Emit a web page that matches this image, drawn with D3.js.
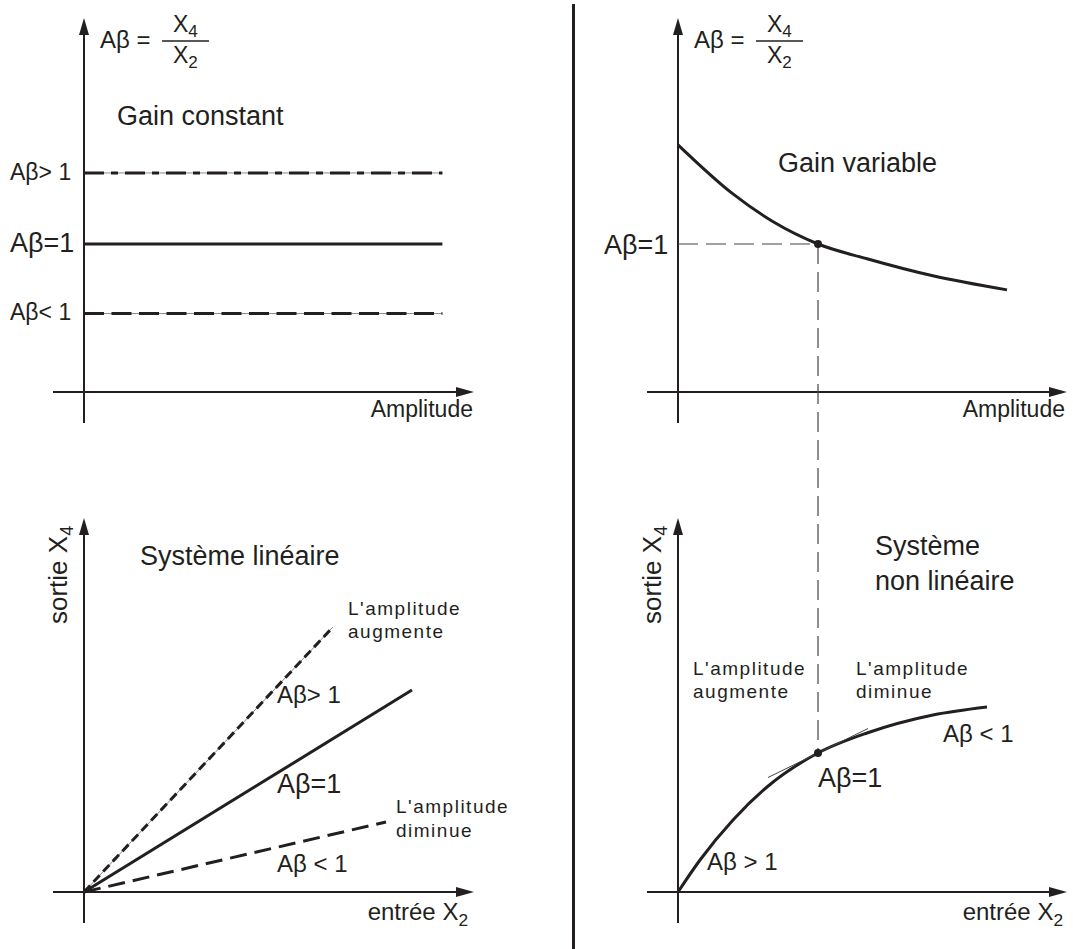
<!DOCTYPE html>
<html><head><meta charset="utf-8">
<script src="https://cdn.jsdelivr.net/npm/d3@7"></script>
<style>
body{margin:0;background:#fff}
svg{display:block}
text{font-family:"Liberation Sans",Arial,Helvetica,sans-serif;fill:#231f20}
</style>
</head><body>
<svg id="c" width="1073" height="949"></svg>
<script>
// ---------- data ----------
const constGainLabels = ["Aβ> 1", "Aβ=1", "Aβ< 1"];
const constGainValues = [1.48, 1.0, 0.53];
const constGainEnd = 2.56;

const varGainAmplitude = [0, 0.39, 0.68, 1.0, 1.35, 1.82, 2.35];
const varGainValue     = [1.67, 1.34, 1.15, 1.0, 0.90, 0.785, 0.69];

const linearLabels = ["Aβ> 1", "Aβ=1", "Aβ < 1"];
const linearInEnd  = [2.49, 3.28, 3.02];
const linearOutEnd = [2.65, 2.02, 0.70];

const nonlinInput  = [0, 0.22, 0.55, 0.89, 1.40, 1.89, 2.55, 3.09];
const nonlinOutput = [0, 0.32, 0.72, 1.05, 1.39, 1.59, 1.77, 1.85];
const opInput = 1.40, opOutput = 1.39, opAmplitude = 1.0, opGain = 1.0;
const tangentSlope = 0.49;
const tangentHalfSpan = 0.5;

// ---------- setup ----------
const svg = d3.select("#c");
const INK = "#231f20";

// scales: top panels
const yGain = d3.scaleLinear().domain([0, 2.5]).range([392, 22]);
const xAmpL = d3.scaleLinear().domain([0, 2.8]).range([84, 476]);
const xAmpR = d3.scaleLinear().domain([0, 2.8]).range([678, 1070]);
// bottom panels
const yOut  = d3.scaleLinear().domain([0, 3.74]).range([892, 518]);
const xInL  = d3.scaleLinear().domain([0, 3.9]).range([84, 474]);
const xInR  = d3.scaleLinear().domain([0, 3.9]).range([678, 1068]);

function arrowAxes(g, x, y, tipX, tipY) {
  const ox = x(0), oy = y(0);
  g.append("line").attr("x1", ox - 31).attr("y1", oy).attr("x2", tipX - 10).attr("y2", oy)
    .attr("stroke", INK).attr("stroke-width", 2);
  g.append("path").attr("d", `M${tipX},${oy} L${tipX - 18},${oy - 5} L${tipX - 18},${oy + 5} Z`).attr("fill", INK);
  g.append("line").attr("x1", ox).attr("y1", oy + 31).attr("x2", ox).attr("y2", tipY + 10)
    .attr("stroke", INK).attr("stroke-width", 2);
  g.append("path").attr("d", `M${ox},${tipY} L${ox - 5},${tipY + 17} L${ox + 5},${tipY + 17} Z`).attr("fill", INK);
}

function formula(g, ox) {
  g.append("text").attr("x", ox + 16).attr("y", 48).attr("font-size", 24).text("Aβ =");
  g.append("line").attr("x1", ox + 78).attr("x2", ox + 125).attr("y1", 41).attr("y2", 41)
    .attr("stroke", INK).attr("stroke-width", 1.6);
  const n = g.append("text").attr("x", ox + 89).attr("y", 32).attr("font-size", 23);
  n.append("tspan").text("X");
  n.append("tspan").attr("dy", 5).attr("font-size", 17).text("4");
  const d = g.append("text").attr("x", ox + 89).attr("y", 63).attr("font-size", 23);
  d.append("tspan").text("X");
  d.append("tspan").attr("dy", 5).attr("font-size", 17).text("2");
}

function subLabel(g, x, y, main, sub, size, anchor) {
  const t = g.append("text").attr("x", x).attr("y", y).attr("font-size", size).attr("text-anchor", anchor || "start");
  t.append("tspan").text(main);
  t.append("tspan").attr("dy", 6).attr("font-size", size * 0.72).text(sub);
  return t;
}

// ---------- divider ----------
svg.append("line").attr("x1", 573.5).attr("x2", 573.5).attr("y1", 4).attr("y2", 949)
  .attr("stroke", INK).attr("stroke-width", 3);

// ---------- top-left: gain constant ----------
const gTL = svg.append("g");
arrowAxes(gTL, xAmpL, yGain, 474, 18);
formula(gTL, xAmpL(0));
gTL.append("text").attr("x", 117).attr("y", 125).attr("font-size", 27).text("Gain constant");
gTL.append("text").attr("x", 473).attr("y", 417).attr("font-size", 23).attr("text-anchor", "end").text("Amplitude");

const tlDash = ["20,7,7,7", null, "20,7.5"];
const tlLabelSize = [23, 27, 23];
const tlLabelDy = [7, 8, 6];
constGainValues.forEach((v, i) => {
  const y = yGain(v);
  if (tlDash[i]) {
    gTL.append("line").attr("x1", xAmpL(0)).attr("x2", xAmpL(constGainEnd)).attr("y1", y).attr("y2", y)
      .attr("stroke", "#8a8a8a").attr("stroke-width", 1);
  }
  gTL.append("line").attr("x1", xAmpL(0)).attr("x2", xAmpL(constGainEnd)).attr("y1", y).attr("y2", y)
    .attr("stroke", INK).attr("stroke-width", 3).attr("stroke-dasharray", tlDash[i]);
  gTL.append("text").attr("x", 10).attr("y", y + tlLabelDy[i]).attr("font-size", tlLabelSize[i])
    .text(constGainLabels[i]);
});

// ---------- top-right: gain variable ----------
const gTR = svg.append("g");
arrowAxes(gTR, xAmpR, yGain, 1067, 18);
formula(gTR, xAmpR(0));
gTR.append("text").attr("x", 778).attr("y", 172).attr("font-size", 27).text("Gain variable");
gTR.append("text").attr("x", 1065).attr("y", 417).attr("font-size", 23).attr("text-anchor", "end").text("Amplitude");
gTR.append("text").attr("x", 604).attr("y", yGain(opGain) + 10).attr("font-size", 27).text("Aβ=1");

const varPts = varGainAmplitude.map((a, i) => [a, varGainValue[i]]);
gTR.append("path").datum(varPts)
  .attr("d", d3.line().x(d => xAmpR(d[0])).y(d => yGain(d[1])).curve(d3.curveMonotoneX))
  .attr("fill", "none").attr("stroke", INK).attr("stroke-width", 3);

// dashed guides
svg.append("line").attr("x1", xAmpR(0)).attr("x2", xAmpR(opAmplitude))
  .attr("y1", yGain(opGain)).attr("y2", yGain(opGain))
  .attr("stroke", "#444").attr("stroke-width", 1.2).attr("stroke-dasharray", "20,8");
svg.append("line").attr("x1", xAmpR(opAmplitude)).attr("x2", xAmpR(opAmplitude))
  .attr("y1", yGain(opGain)).attr("y2", yOut(opOutput))
  .attr("stroke", "#444").attr("stroke-width", 1.2).attr("stroke-dasharray", "20,8");
svg.append("circle").attr("cx", xAmpR(opAmplitude)).attr("cy", yGain(opGain)).attr("r", 4).attr("fill", INK);

// ---------- bottom-left: linear system ----------
const gBL = svg.append("g");
arrowAxes(gBL, xInL, yOut, 474, 518);
subLabel(gBL, 468, 920, "entrée X", "2", 24, "end");
{
  const t = gBL.append("text").attr("transform", "translate(67,624) rotate(-90)").attr("font-size", 26);
  t.append("tspan").text("sortie X");
  t.append("tspan").attr("dy", 6).attr("font-size", 18).text("4");
}
gBL.append("text").attr("x", 140).attr("y", 565).attr("font-size", 27).text("Système linéaire");

const blDash = ["9,5", null, "17,8"];
linearInEnd.forEach((xe, i) => {
  const x1 = xInL(0), y1 = yOut(0), x2 = xInL(xe), y2 = yOut(linearOutEnd[i]);
  if (i === 0) {
    gBL.append("line").attr("x1", x1).attr("y1", y1).attr("x2", x2).attr("y2", y2)
      .attr("stroke", "#8a8a8a").attr("stroke-width", 1);
  }
  gBL.append("line").attr("x1", x1).attr("y1", y1).attr("x2", x2).attr("y2", y2)
    .attr("stroke", INK).attr("stroke-width", 3).attr("stroke-dasharray", blDash[i]);
});
const blLabelY = [703, 793, 872];
const blLabelSize = [24, 27, 24];
linearLabels.forEach((l, i) => {
  gBL.append("text").attr("x", 277).attr("y", blLabelY[i]).attr("font-size", blLabelSize[i]).text(l);
});
function smallTwo(g, x, y1, y2, a, b) {
  g.append("text").attr("x", x).attr("y", y1).attr("font-size", 19).attr("letter-spacing", 1.5).text(a);
  g.append("text").attr("x", x).attr("y", y2).attr("font-size", 19).attr("letter-spacing", 1.5).text(b);
}
smallTwo(gBL, 348, 615, 638, "L'amplitude", "augmente");
smallTwo(gBL, 396, 813, 837, "L'amplitude", "diminue");

// ---------- bottom-right: non-linear system ----------
const gBR = svg.append("g");
arrowAxes(gBR, xInR, yOut, 1067, 518);
subLabel(gBR, 1063, 920, "entrée X", "2", 24, "end");
{
  const t = gBR.append("text").attr("transform", "translate(661,624) rotate(-90)").attr("font-size", 26);
  t.append("tspan").text("sortie X");
  t.append("tspan").attr("dy", 6).attr("font-size", 18).text("4");
}
gBR.append("text").attr("x", 875).attr("y", 555).attr("font-size", 27).text("Système");
gBR.append("text").attr("x", 875).attr("y", 590).attr("font-size", 27).text("non linéaire");
smallTwo(gBR, 693, 675, 698, "L'amplitude", "augmente");
smallTwo(gBR, 856, 675, 698, "L'amplitude", "diminue");

const nlPts = nonlinInput.map((x, i) => [x, nonlinOutput[i]]);
gBR.append("path").datum(nlPts)
  .attr("d", d3.line().x(d => xInR(d[0])).y(d => yOut(d[1])).curve(d3.curveMonotoneX))
  .attr("fill", "none").attr("stroke", INK).attr("stroke-width", 3);
gBR.append("line")
  .attr("x1", xInR(opInput - tangentHalfSpan)).attr("y1", yOut(opOutput - tangentSlope * tangentHalfSpan))
  .attr("x2", xInR(opInput + tangentHalfSpan)).attr("y2", yOut(opOutput + tangentSlope * tangentHalfSpan))
  .attr("stroke", "#444").attr("stroke-width", 1);
gBR.append("circle").attr("cx", xInR(opInput)).attr("cy", yOut(opOutput)).attr("r", 4).attr("fill", INK);
gBR.append("text").attr("x", 818).attr("y", 787).attr("font-size", 27).text("Aβ=1");
gBR.append("text").attr("x", 943).attr("y", 742).attr("font-size", 24).text("Aβ < 1");
gBR.append("text").attr("x", 707).attr("y", 870).attr("font-size", 24).text("Aβ > 1");
</script>
</body></html>
